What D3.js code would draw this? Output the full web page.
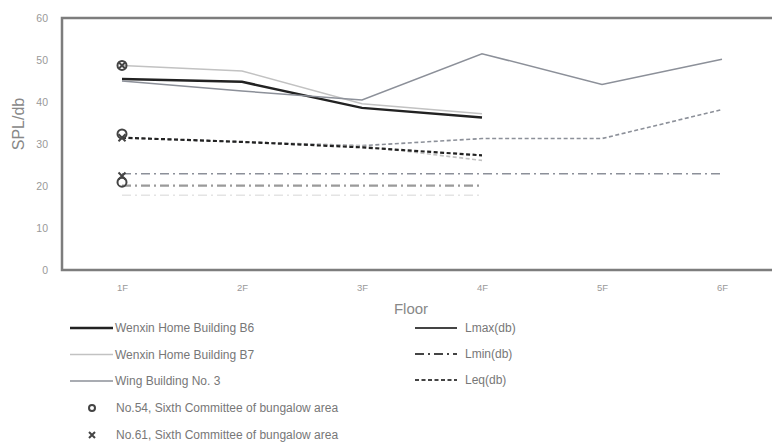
<!DOCTYPE html>
<html>
<head>
<meta charset="utf-8">
<script src="https://cdn.jsdelivr.net/npm/d3@7"></script>
<style>
  body { margin: 0; background: #fff; }
  svg { display: block; font-family: "Liberation Sans", Arial, sans-serif; }
</style>
</head>
<body>
<script>
// categories
var floors = ["1F", "2F", "3F", "4F", "5F", "6F"];
var yTicks = [0, 10, 20, 30, 40, 50, 60];

// Lmax(db)
var b6Lmax = [45.5, 44.8, 38.6, 36.3];
var b7Lmax = [48.7, 47.4, 39.6, 37.2];
var wingLmax = [45.0, 42.6, 40.5, 51.5, 44.2, 50.2];

// Lmin(db)
var b6Lmin = [20.1, 20.1, 20.1, 20.1];
var b7Lmin = [17.8, 17.8, 17.8, 17.8];
var wingLmin = [22.9, 22.9, 22.9, 22.9, 22.9, 22.9];

// Leq(db)
var b6Leq = [31.5, 30.5, 29.2, 27.3];
var b7Leq = [31.5, 30.5, 29.5, 26.1];
var wingLeq = [31.5, 30.5, 29.6, 31.3, 31.3, 38.2];

// bungalow points (1F only): Lmax, Leq, Lmin
var no54 = [48.7, 32.4, 20.9];
var no61 = [48.7, 31.5, 22.4];

var buildings = ["Wenxin Home Building B6", "Wenxin Home Building B7", "Wing Building No. 3"];
var bungalows = ["No.54, Sixth Committee of bungalow area", "No.61, Sixth Committee of bungalow area"];
var measures = ["Lmax(db)", "Lmin(db)", "Leq(db)"];

var W = 772, H = 442;
var plot = {left: 62, right: 780, top: 18, bottom: 270};

var svg = d3.select("body").append("svg")
    .attr("width", W).attr("height", H);

var x = d3.scalePoint().domain(floors).range([122, 722]);
var y = d3.scaleLinear().domain([0, 60]).range([plot.bottom, plot.top]);

// building styles
var bColor = ["#222", "#c2c2c2", "#8c9099"];
var bWidth = [2.5, 1.5, 1.5];
var mDash = [null, "9,4,2,4", "4,2.5"];

var series = [
  {b: 0, m: 0, v: b6Lmax}, {b: 1, m: 0, v: b7Lmax}, {b: 2, m: 0, v: wingLmax},
  {b: 2, m: 1, v: wingLmin}, {b: 1, m: 1, v: b7Lmin}, {b: 0, m: 1, v: b6Lmin},
  {b: 2, m: 2, v: wingLeq}, {b: 1, m: 2, v: b7Leq}, {b: 0, m: 2, v: b6Leq}
];

var line = d3.line()
    .x(function(d, i) { return x(floors[i]); })
    .y(function(d) { return y(d); });

// frame
svg.append("path")
    .attr("d", "M" + (plot.right) + "," + plot.top + "H" + plot.left + "V" + plot.bottom + "H" + plot.right)
    .attr("fill", "none")
    .attr("stroke", "#7d7d7d")
    .attr("stroke-width", 2.5);

// y axis labels
var yAxis = svg.append("g")
    .attr("transform", "translate(" + (plot.left - 14) + ",0)")
    .call(d3.axisLeft(y).tickValues(yTicks).tickSize(0).tickPadding(0));
yAxis.select(".domain").remove();
yAxis.selectAll("text").attr("fill", "#999").style("font-size", "10.5px");

// x axis labels
var xAxis = svg.append("g")
    .attr("transform", "translate(0," + (plot.bottom + 14) + ")")
    .call(d3.axisBottom(x).tickSize(0).tickPadding(0));
xAxis.select(".domain").remove();
xAxis.selectAll("text").attr("fill", "#999").style("font-size", "9.5px");

// axis titles
svg.append("text")
    .attr("transform", "translate(24,124) rotate(-90)")
    .attr("text-anchor", "middle")
    .attr("fill", "#888")
    .style("font-size", "16px")
    .text("SPL/db");

svg.append("text")
    .attr("x", 411).attr("y", 314)
    .attr("text-anchor", "middle")
    .attr("fill", "#888")
    .style("font-size", "15px")
    .text("Floor");

// lines
svg.selectAll(".series")
    .data(series)
    .enter()
    .append("path")
    .attr("class", "series")
    .attr("d", function(d) { return line(d.v); })
    .attr("fill", "none")
    .attr("stroke", function(d) { return d.m === 1 && d.b === 1 ? "#e4e4e4" : (d.m === 1 && d.b === 0 ? "#9a9a9a" : bColor[d.b]); })
    .attr("stroke-width", function(d) { return d.m === 0 ? bWidth[d.b] : (d.b === 0 ? 2.2 : 1.6); })
    .attr("stroke-dasharray", function(d) { return mDash[d.m]; });

// bungalow markers at 1F
function drawCircle(g, cx, cy, r) {
  g.append("circle").attr("cx", cx).attr("cy", cy).attr("r", r)
    .attr("fill", "none").attr("stroke", "#444").attr("stroke-width", 2);
}
function drawCross(g, cx, cy, r) {
  g.append("path")
    .attr("d", "M" + (cx - r) + "," + (cy - r) + "L" + (cx + r) + "," + (cy + r) +
               "M" + (cx - r) + "," + (cy + r) + "L" + (cx + r) + "," + (cy - r))
    .attr("stroke", "#444").attr("stroke-width", 2);
}
var mk = svg.append("g");
no54.forEach(function(v) { drawCircle(mk, x("1F"), y(v), 4.5); });
no61.forEach(function(v) { drawCross(mk, x("1F"), y(v), 3.5); });

// legend: buildings
var lg = svg.append("g").style("font-size", "12px").attr("fill", "#777");
buildings.forEach(function(name, i) {
  var ly = 328 + i * 26.5;
  lg.append("line").attr("x1", 70).attr("x2", 113).attr("y1", ly).attr("y2", ly)
    .attr("stroke", bColor[i]).attr("stroke-width", bWidth[i]);
  lg.append("text").attr("x", 115).attr("y", ly + 4).text(name);
});
bungalows.forEach(function(name, i) {
  var ly = 408 + i * 27;
  if (i === 0) {
    lg.append("circle").attr("cx", 92).attr("cy", ly).attr("r", 3)
      .attr("fill", "none").attr("stroke", "#444").attr("stroke-width", 2);
  } else {
    drawCross(lg, 92, ly, 3);
  }
  lg.append("text").attr("x", 116).attr("y", ly + 4).text(name);
});

// legend: measures
measures.forEach(function(name, i) {
  var ly = 328 + i * 26;
  lg.append("line").attr("x1", 415).attr("x2", 457).attr("y1", ly).attr("y2", ly)
    .attr("stroke", "#444").attr("stroke-width", 2.2)
    .attr("stroke-dasharray", mDash[i]);
  lg.append("text").attr("x", 465).attr("y", ly + 4).text(name);
});
</script>
</body>
</html>
